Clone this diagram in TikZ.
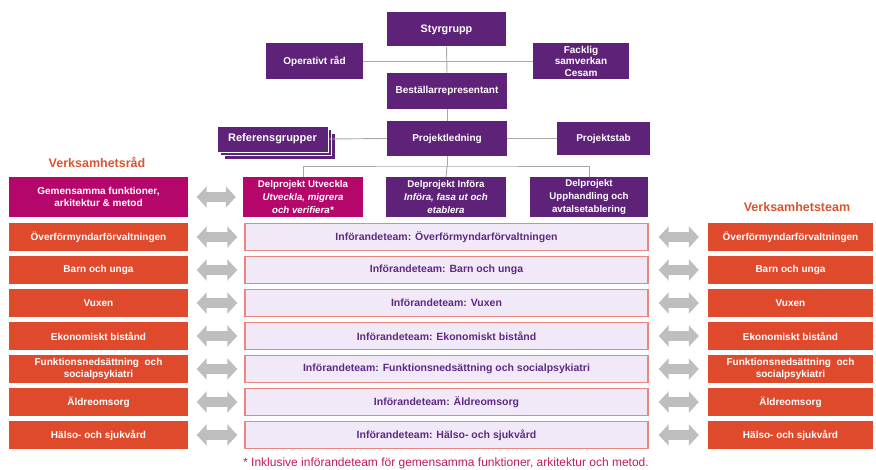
\documentclass[tikz,border=0pt]{standalone}
\usepackage{fontspec}
\setmainfont{Liberation Sans}
\usetikzlibrary{arrows.meta}
\definecolor{purp}{HTML}{5E2378}
\definecolor{mag}{HTML}{B5076B}
\definecolor{orng}{HTML}{E04A2C}
\definecolor{lav}{HTML}{F1E9F8}
\definecolor{lavb}{HTML}{E8877F}
\definecolor{lavt}{HTML}{5E2A84}
\definecolor{ttl}{HTML}{D9542F}
\definecolor{foot}{HTML}{C3195D}
\definecolor{conn}{HTML}{A8A8A8}
\definecolor{garr}{HTML}{BEBEBE}
\tikzset{
  box/.style={rectangle, inner sep=0pt, align=center, text=white,
    font=\bfseries\fontsize{10}{12}\selectfont},
  pbox/.style={box, fill=purp},
  mbox/.style={box, fill=mag},
  dbox/.style={box, font=\bfseries\fontsize{9.7}{12.8}\selectfont},
  obox/.style={box, fill=orng, minimum width=179pt, minimum height=28pt},
  robox/.style={box, fill=orng, minimum width=165pt, minimum height=28pt},
  ibox/.style={box, fill=lav, draw=lavb, line width=1.4pt, text=lavt,
    font=\bfseries\fontsize{10.5}{12}\selectfont,
    minimum width=403pt, minimum height=27pt},
  conline/.style={draw=conn, line width=0.9pt},
  garrow/.style={draw=garr, line width=10pt,
    {Triangle[width=21pt,length=10pt]}-{Triangle[width=21pt,length=10pt]}},
  garrowl/.style={garrow, shorten <=8.5pt, shorten >=7pt},
  garrowr/.style={garrow, shorten <=10pt, shorten >=9pt},
  ttlstyle/.style={text=ttl, font=\bfseries\fontsize{12.5}{14}\selectfont}
}
\begin{document}
\begin{tikzpicture}[x=1pt,y=-1pt]
\useasboundingbox (0,0) rectangle (876,470);
% top hierarchy
\node[pbox, font=\bfseries\fontsize{10.8}{12}\selectfont, minimum width=119pt, minimum height=34pt] (sty) at (446.5,29.5) {Styrgrupp};
\node[pbox, minimum width=97pt, minimum height=36pt] (op) at (314.5,61) {Operativt råd};
\node[pbox, font=\bfseries\fontsize{10}{11.5}\selectfont, minimum width=96pt, minimum height=36pt] (fack) at (581,61) {Facklig\\samverkan\\Cesam};
\node[pbox, minimum width=120pt, minimum height=36pt] (best) at (447,91) {Beställarrepresentant};
\node[pbox, minimum width=120pt, minimum height=35pt] (proj) at (447,138.5) {Projektledning};
\node[pbox, draw=white, line width=0.6pt, minimum width=111pt, minimum height=26pt] (ref3) at (279.5,146) {};
\node[pbox, draw=white, line width=0.6pt, minimum width=111pt, minimum height=26pt] (ref2) at (276,142.5) {};
\node[pbox, draw=white, line width=0.6pt, font=\bfseries\fontsize{11}{13}\selectfont, minimum width=111pt, minimum height=26pt] (ref) at (272.5,139) {Referensgrupper};
\node[pbox, minimum width=93pt, minimum height=33pt] (pstab) at (603.5,138.5) {Projektstab};
\node[dbox, fill=mag, minimum width=120pt, minimum height=40pt] (d1) at (303,197) {Delprojekt Utveckla\\\textit{Utveckla, migrera}\\\textit{och verifiera*}};
\node[dbox, fill=purp, minimum width=120pt, minimum height=40pt] (d2) at (446,197) {Delprojekt Införa\\\textit{Införa, fasa ut och}\\\textit{etablera}};
\node[dbox, fill=purp, minimum width=118pt, minimum height=40pt] (d3) at (589,197) {Delprojekt\\Upphandling och\\avtalsetablering};
% connectors
\draw[conline] (sty.south) -- (best.north);
\draw[conline] (op.east) -- (fack.west);
\draw[conline] (best.south) -- (proj.north);
\draw[conline] (ref.east) -- (proj.west);
\draw[conline] (proj.east) -- (pstab.west);
\coordinate (hub) at (447,166);
\draw[conline] (proj.south) -- (hub);
\draw[conline] (d1.north) |- (hub) -| (d3.north);
\draw[conline] (hub) -- (d2.north);
% titles
\node[ttlstyle] (vr) at (97,162) {Verksamhetsråd};
\node[ttlstyle] (vt) at (797,207) {Verksamhetsteam};
% left column
\node[mbox, minimum width=179pt, minimum height=40pt] (gem) at (98.5,197) {Gemensamma funktioner,\\arkitektur \& metod};
\draw[garrowl] (gem.east) -- (d1.west);
\foreach \i/\txt/\rtxt in {
  0/Överförmyndarförvaltningen/Överförmyndarförvaltningen,
  1/Barn och unga/Barn och unga,
  2/Vuxen/Vuxen,
  3/Ekonomiskt bistånd/Ekonomiskt bistånd,
  4/{Funktionsnedsättning\ \ och\\socialpsykiatri}/{Funktionsnedsättning och socialpsykiatri},
  5/Äldreomsorg/Äldreomsorg,
  6/Hälso- och sjukvård/Hälso- och sjukvård}{
  \node[obox] (L\i) at (98.5,{237+33*\i}) {\txt};
  \node[ibox] (M\i) at (446.5,{237+33*\i}) {Införandeteam: \rtxt};
  \node[robox] (R\i) at (790.5,{237+33*\i}) {\txt};
  \draw[garrowl] (L\i.east) -- (M\i.west);
  \draw[garrowr] (M\i.east) -- (R\i.west);
}
% footnote
\node[text=foot, font=\fontsize{12}{13}\selectfont] (fn) at (446,463) {* Inklusive införandeteam för gemensamma funktioner, arkitektur och metod.};
\end{tikzpicture}
\end{document}
